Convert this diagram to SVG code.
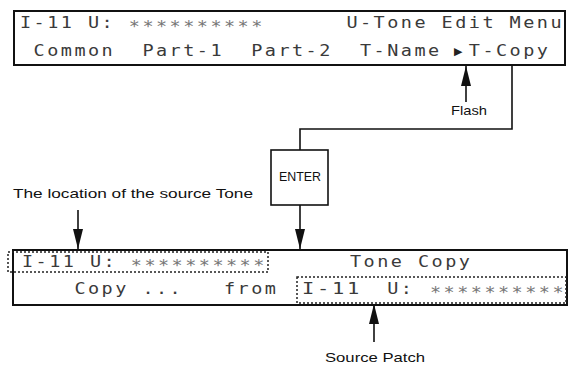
<svg xmlns="http://www.w3.org/2000/svg" width="573" height="368" viewBox="0 0 573 368">
<defs>
<style>
.bg{fill:#fff}
.box{fill:none;stroke:#111;stroke-width:2}
.dot{fill:none;stroke:#222;stroke-width:1.5;stroke-dasharray:2 2}
.lcd{font-family:"DejaVu Sans Mono","Liberation Mono",monospace;font-size:15px;letter-spacing:2px;fill:#3a3a3a}
.star{font-family:"DejaVu Sans Mono","Liberation Mono",monospace;font-size:15px;letter-spacing:2px;fill:#777}
.lbl{font-family:"Liberation Sans",Arial,sans-serif;font-size:13px;fill:#111}
.ln{fill:none;stroke:#111;stroke-width:1.6}
.tri{font-family:"DejaVu Sans",sans-serif;font-size:11px;fill:#222}
</style>
<marker id="ah" viewBox="0 0 20 10" refX="20" refY="5" markerWidth="20" markerHeight="10" markerUnits="userSpaceOnUse" orient="auto">
<path d="M0,0 L20,5 L0,10 Z" fill="#111"/>
</marker>
</defs>
<rect class="bg" x="0" y="0" width="573" height="368"/>

<g id="menu-display">
<rect class="box" x="14" y="11" width="551" height="54"/>
<text class="lcd" x="20" y="28" textLength="54.4" lengthAdjust="spacingAndGlyphs">I-11</text>
<text class="lcd" x="88" y="28" textLength="27.2" lengthAdjust="spacingAndGlyphs">U:</text>
<text class="star" x="128.8" y="28" dy="4" textLength="136" lengthAdjust="spacingAndGlyphs">**********</text>
<text class="lcd" x="346.4" y="28" textLength="217.6" lengthAdjust="spacingAndGlyphs">U-Tone Edit Menu</text>
<text class="lcd" x="33.6" y="56" textLength="81.6" lengthAdjust="spacingAndGlyphs">Common</text>
<text class="lcd" x="142.4" y="56" textLength="81.6" lengthAdjust="spacingAndGlyphs">Part-1</text>
<text class="lcd" x="251.2" y="56" textLength="81.6" lengthAdjust="spacingAndGlyphs">Part-2</text>
<text class="lcd" x="360" y="56" textLength="81.6" lengthAdjust="spacingAndGlyphs">T-Name</text>
<text class="tri" x="454" y="55">▶</text>
<text class="lcd" x="468.8" y="56" textLength="81.6" lengthAdjust="spacingAndGlyphs">T-Copy</text>
</g>

<g id="flash-label">
<text class="lbl" x="451" y="115" textLength="36" lengthAdjust="spacingAndGlyphs">Flash</text>
</g>

<g id="enter-key">
<rect class="ln" x="271" y="150" width="57" height="55" fill="#fff"/>
<text class="lbl" x="279" y="181" font-size="11" textLength="42" lengthAdjust="spacingAndGlyphs">ENTER</text>
</g>

<g id="location-label">
<text class="lbl" x="13" y="198" textLength="240" lengthAdjust="spacingAndGlyphs">The location  of  the source Tone</text>
</g>

<g id="copy-display">
<rect class="box" x="13" y="250" width="554" height="55"/>
<rect class="dot" x="8" y="252" width="260" height="20"/>
<rect class="dot" x="297" y="277" width="269" height="26"/>
<text class="lcd" x="22" y="267" textLength="54.4" lengthAdjust="spacingAndGlyphs">I-11</text>
<text class="lcd" x="90" y="267" textLength="27.2" lengthAdjust="spacingAndGlyphs">U:</text>
<text class="star" x="130.8" y="267" dy="4" textLength="136" lengthAdjust="spacingAndGlyphs">**********</text>
<text class="lcd" x="350" y="267" textLength="122.4" lengthAdjust="spacingAndGlyphs">Tone Copy</text>
<text class="lcd" x="74.4" y="294" textLength="108.8" lengthAdjust="spacingAndGlyphs">Copy ...</text>
<text class="lcd" x="224" y="294" textLength="54.4" lengthAdjust="spacingAndGlyphs">from</text>
<text class="lcd" x="302" y="294" textLength="60" lengthAdjust="spacingAndGlyphs">I-11</text>
<text class="lcd" x="387.2" y="294" textLength="27.2" lengthAdjust="spacingAndGlyphs">U:</text>
<text class="star" x="430" y="294" dy="4" textLength="136" lengthAdjust="spacingAndGlyphs">**********</text>
</g>

<g id="source-label">
<text class="lbl" x="325" y="362" textLength="100" lengthAdjust="spacingAndGlyphs">Source Patch</text>
</g>

<g id="connectors">
<line class="ln" x1="466" y1="102" x2="466" y2="66" marker-end="url(#ah)"/>
<polyline class="ln" points="512,65 512,129 300,129 300,150"/>
<line class="ln" x1="300" y1="205" x2="300" y2="249" marker-end="url(#ah)"/>
<line class="ln" x1="78" y1="210" x2="78" y2="249" marker-end="url(#ah)"/>
<line class="ln" x1="374" y1="342" x2="374" y2="304" marker-end="url(#ah)"/>
</g>
</svg>
